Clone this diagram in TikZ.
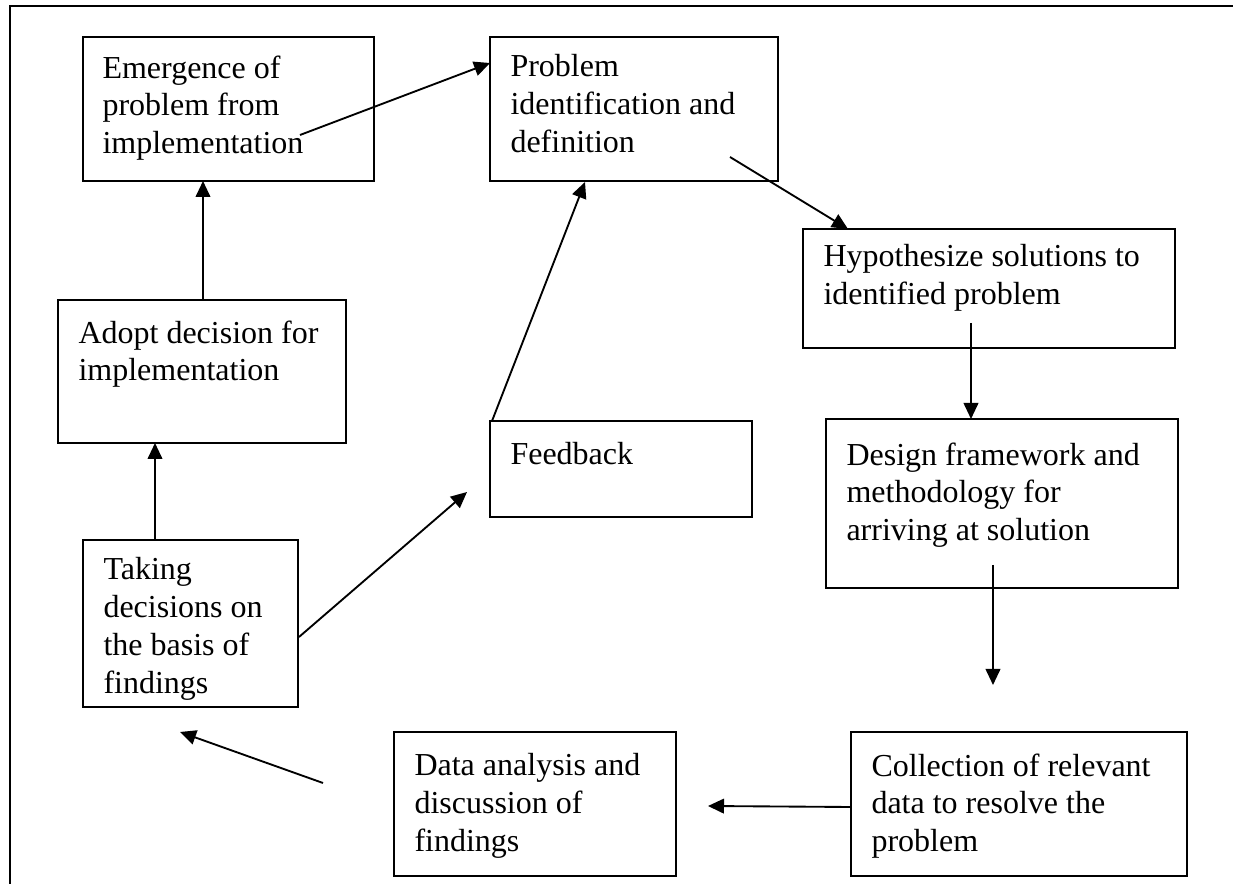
\documentclass[tikz,border=0pt]{standalone}
\usepackage{fontspec}
\setmainfont{Liberation Serif}
\usetikzlibrary{fit,arrows.meta}
\begin{document}
\begin{tikzpicture}[x=0.375pt,y=-0.375pt,
  boxsty/.style={draw,line width=0.8pt,inner sep=0pt},
  txtsty/.style={anchor=north west,align=left,inner sep=0pt,font=\fontsize{12}{14.2}\selectfont},
  arr/.style={line width=0.7pt,-{Triangle[length=6pt,width=5.5pt]}},
  framesty/.style={line width=0.8pt}]
\useasboundingbox (0,0) rectangle (1233,884);
% outer frame
\coordinate (fr1) at (10,884);
\coordinate (fr2) at (10,6);
\coordinate (fr3) at (1233,6);
\draw[framesty] (fr1) -- (fr2) -- (fr3);
% boxes
\node[boxsty,fit={(83,37)(374,181)}] (emer) {};
\node[txtsty] (emert) at (102,55) {Emergence of\\problem from\\implementation};
\node[boxsty,fit={(490,37)(778,181)}] (prob) {};
\node[txtsty] (probt) at (510,54) {Problem\\identification and\\definition};
\node[boxsty,fit={(803,229)(1175,348)}] (hyp) {};
\node[txtsty] (hypt) at (823,244) {Hypothesize solutions to\\identified problem};
\node[boxsty,fit={(826,419)(1178,588)}] (des) {};
\node[txtsty] (dest) at (846,442) {Design framework and\\methodology for\\arriving at solution};
\node[boxsty,fit={(851,732)(1187,876)}] (coll) {};
\node[txtsty] (collt) at (871,753) {Collection of relevant\\data to resolve the\\problem};
\node[boxsty,fit={(394,732)(676,876)}] (data) {};
\node[txtsty] (datat) at (414,753) {Data analysis and\\discussion of\\findings};
\node[boxsty,fit={(83,540)(298,707)}] (take) {};
\node[txtsty] (taket) at (103,557) {Taking\\decisions on\\the basis of\\findings};
\node[boxsty,fit={(58,300)(346,443)}] (adopt) {};
\node[txtsty] (adoptt) at (78,320) {Adopt decision for\\implementation};
\node[boxsty,fit={(490,421)(752,517)}] (feed) {};
\node[txtsty] (feedt) at (510,442) {Feedback};
% connector end points
\coordinate (a1) at (300,135); \coordinate (a2) at (490,63);
\coordinate (b1) at (730,157); \coordinate (b2) at (848,229);
\coordinate (c1) at (971,323); \coordinate (c2) at (971,419);
\coordinate (d1) at (993,565); \coordinate (d2) at (993,685);
\coordinate (e1) at (851,807); \coordinate (e2) at (708,806);
\coordinate (f1) at (323,783); \coordinate (f2) at (180,732);
\coordinate (g1) at (155,540); \coordinate (g2) at (155,443);
\coordinate (h1) at (203,300); \coordinate (h2) at (203,181);
\coordinate (i1) at (299,637); \coordinate (i2) at (467,492);
\coordinate (j1) at (492,421); \coordinate (j2) at (585,182);
% connectors
\draw[arr] (a1) -- (a2);
\draw[arr] (b1) -- (b2);
\draw[arr] (c1) -- (c2);
\draw[arr] (d1) -- (d2);
\draw[arr] (e1) -- (e2);
\draw[arr] (f1) -- (f2);
\draw[arr] (g1) -- (g2);
\draw[arr] (h1) -- (h2);
\draw[arr] (i1) -- (i2);
\draw[arr] (j1) -- (j2);
\end{tikzpicture}
\end{document}
